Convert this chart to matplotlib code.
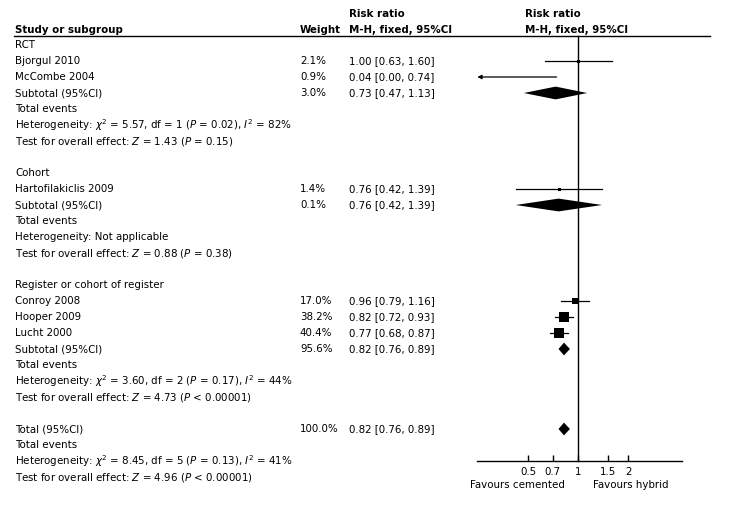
import numpy as np
import matplotlib
matplotlib.use("Agg")
import matplotlib.pyplot as plt

plt.rcParams['font.family'] = 'DejaVu Sans'
plt.rcParams['mathtext.fontset'] = 'dejavusans'
FS = 7.4

# ---- data ----
study_names = ["Bjorgul 2010", "McCombe 2004", "Hartofilakiclis 2009",
               "Conroy 2008", "Hooper 2009", "Lucht 2000"]
study_w = [2.1, 0.9, 1.4, 17.0, 38.2, 40.4]
study_rr = [1.00, 0.04, 0.76, 0.96, 0.82, 0.77]
study_lo = [0.63, 0.00, 0.42, 0.79, 0.72, 0.68]
study_hi = [1.60, 0.74, 1.39, 1.16, 0.93, 0.87]

pooled_names = ["Subtotal (95%CI)", "Subtotal (95%CI)", "Subtotal (95%CI)", "Total (95%CI)"]
pooled_w = [3.0, 0.1, 95.6, 100.0]
pooled_rr = [0.73, 0.76, 0.82, 0.82]
pooled_lo = [0.47, 0.42, 0.76, 0.76]
pooled_hi = [1.13, 1.39, 0.89, 0.89]

groups = ["RCT", "Cohort", "Register or cohort of register"]
het_text = [r"Heterogeneity: $\chi^2$ = 5.57, df = 1 ($P$ = 0.02), $I^2$ = 82%",
            "Heterogeneity: Not applicable",
            r"Heterogeneity: $\chi^2$ = 3.60, df = 2 ($P$ = 0.17), $I^2$ = 44%",
            r"Heterogeneity: $\chi^2$ = 8.45, df = 5 ($P$ = 0.13), $I^2$ = 41%"]
effect_text = [r"Test for overall effect: $Z$ = 1.43 ($P$ = 0.15)",
               r"Test for overall effect: $Z$ = 0.88 ($P$ = 0.38)",
               r"Test for overall effect: $Z$ = 4.73 ($P$ < 0.00001)",
               r"Test for overall effect: $Z$ = 4.96 ($P$ < 0.00001)"]

tick_vals = [0.5, 0.7, 1, 1.5, 2]
tick_labels = ["0.5", "0.7", "1", "1.5", "2"]

# row layout (row index, one row = 16 px)
group_rows = [0, 8, 15]
study_rows = [1, 2, 9, 16, 17, 18]
pooled_rows = [3, 10, 19, 24]
x_study, x_weight, x_rr = 15, 300, 349
W, H = 733, 505
ylim = ((H - 45) / 16, -45 / 16)

fig = plt.figure(figsize=(W / 100, H / 100), dpi=100)
fig.patch.set_facecolor('white')

# text table axes in pixel x, row y
tx = fig.add_axes([0, 0, 1, 1])
tx.set_xlim(0, W)
tx.set_ylim(*ylim)
tx.axis('off')

def txt(x, y, s, **kw):
    tx.text(x, y, s, fontsize=FS, va='center', ha=kw.pop('ha', 'left'), **kw)

# header
txt(x_study, -0.94, "Study or subgroup", weight='bold')
txt(x_weight, -0.94, "Weight", weight='bold')
txt(x_rr, -1.94, "Risk ratio", weight='bold')
txt(x_rr, -0.94, "M-H, fixed, 95%CI", weight='bold')
txt(525, -1.94, "Risk ratio", weight='bold')
txt(525, -0.94, "M-H, fixed, 95%CI", weight='bold')
tx.plot([14, 710], [-0.5625, -0.5625], color='black', lw=1)

for g, r in zip(groups, group_rows):
    txt(x_study, r, g)

for name, r, w, rr, lo, hi in zip(study_names, study_rows, study_w, study_rr, study_lo, study_hi):
    txt(x_study, r, name)
    txt(x_weight, r, f"{w:.1f}%")
    txt(x_rr, r, f"{rr:.2f} [{lo:.2f}, {hi:.2f}]")

for name, r, w, rr, lo, hi, het, eff in zip(pooled_names, pooled_rows, pooled_w, pooled_rr,
                                             pooled_lo, pooled_hi, het_text, effect_text):
    txt(x_study, r, name)
    txt(x_weight, r, f"{w:.1f}%")
    txt(x_rr, r, f"{rr:.2f} [{lo:.2f}, {hi:.2f}]")
    txt(x_study, r + 1, "Total events")
    txt(x_study, r + 2, het)
    txt(x_study, r + 3, eff)

txt(517, 27.5, "Favours cemented", ha='center')
txt(631, 27.5, "Favours hybrid", ha='center')

# forest plot axes
x0, x1 = 477.3, 681.7
ax = fig.add_axes([x0 / W, 0, (x1 - x0) / W, 1])
ax.set_xscale('log')
xmin, xmax = 0.2466, 4.19
ax.set_xlim(xmin, xmax)
ax.set_ylim(*ylim)
ax.patch.set_alpha(0)
for s in ['top', 'left', 'right']:
    ax.spines[s].set_visible(False)
ax.spines['bottom'].set_position(('data', 26))
ax.spines['bottom'].set_linewidth(1)
ax.set_yticks([])
ax.set_xticks(tick_vals)
ax.set_xticklabels(tick_labels, fontsize=FS)
ax.minorticks_off()
ax.tick_params(axis='x', direction='in', length=4, width=1, pad=4)

ax.plot([1, 1], [-0.5625, 26], color='black', lw=1)

for r, w, rr, lo, hi in zip(study_rows, study_w, study_rr, study_lo, study_hi):
    if lo < xmin:
        ax.annotate("", xy=(xmin, r), xytext=(hi, r),
                    arrowprops=dict(arrowstyle='-|>', color='black', lw=0.9,
                                    mutation_scale=6, shrinkA=0, shrinkB=0))
    else:
        ax.plot([lo, hi], [r, r], color='black', lw=0.9)
    if xmin < rr < xmax:
        side = max(3.0, 1.6 * np.sqrt(w)) * 0.72
        ax.plot(rr, r, marker='s', color='black', markersize=side, mew=0)

h = 0.4
for r, rr, lo, hi in zip(pooled_rows, pooled_rr, pooled_lo, pooled_hi):
    ax.fill([lo, rr, hi, rr], [r, r - h, r, r + h], color='black', lw=0)

fig.savefig("out.png", dpi=100, facecolor='white')
